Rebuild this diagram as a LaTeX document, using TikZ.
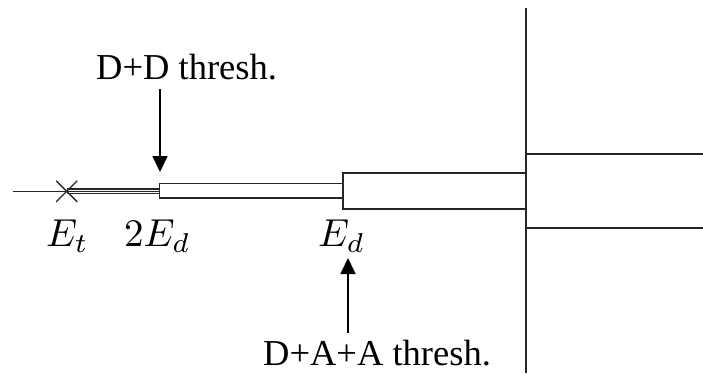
\documentclass[tikz,border=0pt]{standalone}
\usepackage{fontspec}
\setmainfont{Liberation Serif}
\DeclareFontShape{OML}{cmm}{m}{it}{<-30>cmmi7 <30->cmmi10}{}
\DeclareFontShape{OT1}{cmr}{m}{n}{<-30>cmr7 <30->cmr10}{}
\DeclareFontShape{OMS}{cmsy}{m}{n}{<-30>cmsy7 <30->cmsy10}{}
\DeclareFontShape{OMX}{cmex}{m}{n}{<->cmex10}{}
\usetikzlibrary{arrows.meta}
\begin{document}
\begin{tikzpicture}[x=1pt,y=-1pt,
  ln/.style={line width=1.7pt,draw=black!85},
  crs/.style={line width=1.4pt,draw=black!85},
  thin3/.style={line width=1.2pt,draw=black!85},
  arr/.style={line width=1.8pt,-{Triangle[width=15pt,length=16pt]}},
  txt/.style={inner sep=0pt,anchor=base west,font=\fontsize{36.5}{40}\selectfont},
  mth/.style={inner sep=0pt,anchor=base west,font=\fontsize{39}{44}\selectfont}]
\useasboundingbox (0,0) rectangle (703,373);
% coordinates
\coordinate (L) at (13,191.3);
\coordinate (X) at (66.7,191.3);
\coordinate (A1) at (159.5,183.5);
\coordinate (A2) at (343,198.3);
\coordinate (B1) at (343,172.7);
\coordinate (B2) at (526,209.3);
\coordinate (VT) at (526,8);
\coordinate (VB) at (526,373);
\coordinate (R1a) at (526,154.3);
\coordinate (R1b) at (703,154.3);
\coordinate (R2a) at (526,228);
\coordinate (R2b) at (703,228);
\coordinate (DDtip) at (160,172);
\coordinate (DAtip) at (348,258);
% shapes
\draw[crs] (L) -- (X);
\draw[crs] ([shift={(-10.5,-10.5)}]X) -- ([shift={(10.5,10.5)}]X);
\draw[crs] ([shift={(-10.5,10.5)}]X) -- ([shift={(10.5,-10.5)}]X);
\draw[thin3] (X) ++(0,-2.3) -- (159.5,189);
\draw[thin3] (X) -- (159.5,191.3);
\draw[thin3] (X) ++(0,2.3) -- (159.5,193.6);
\draw[ln] (A1) rectangle (A2);
\draw[ln,fill=white] (B1) rectangle (B2);
\draw[ln] (VT) -- (VB);
\draw[ln] (R1a) -- (R1b);
\draw[ln] (R2a) -- (R2b);
% labels
\node[txt] (dd) at (96,79) {D+D thresh.};
\node[txt] (daa) at (263,365) {D+A+A thresh.};
\node[mth] (et) at (46,246.5) {$E_t$};
\node[mth] (ed2) at (124,246.5) {$2E_d$};
\node[mth] (ed) at (318,246.5) {$E_d$};
\coordinate (DDs) at (160,89);
\coordinate (DAs) at (348,333);
\draw[arr] (DDs) -- (DDtip);
\draw[arr] (DAs) -- (DAtip);
\end{tikzpicture}
\end{document}
